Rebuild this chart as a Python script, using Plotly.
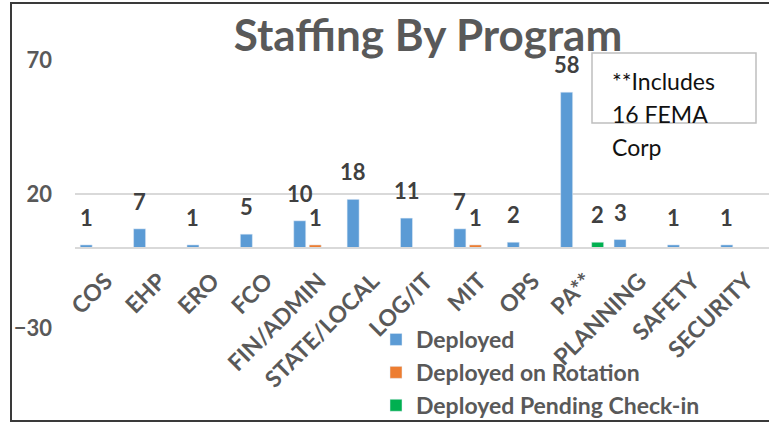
import plotly.graph_objects as go

# Staffing counts per program
programs = ["COS", "EHP", "ERO", "FCO", "FIN/ADMIN", "STATE/LOCAL", "LOG/IT",
            "MIT", "OPS", "PA**", "PLANNING", "SAFETY", "SECURITY"]
deployed = [1, 7, 1, 5, 10, 18, 11, 7, 2, 58, 3, 1, 1]
on_rotation = [None, None, None, None, 1, None, None, 1, None, None, None, None, None]
pending_checkin = [None, None, None, None, None, None, None, None, None, 2, None, None, None]
y_ticks = [70, 20, -30]

series = [
    ("Deployed", deployed, "#5B9BD5"),
    ("Deployed on Rotation", on_rotation, "#ED7D31"),
    ("Deployed Pending Check-in", pending_checkin, "#00B050"),
]

W, H = 769, 422
ML, MR, MT, MB = 75, 0, 60, 94
PW, PH = W - ML - MR, H - MT - MB
BARGAP, BARGROUPGAP = 0.129, 0.226
FONT = "Lato"
GRAY = "#595959"


def px_x(px):
    return (px - ML) / PW


def px_y(py):
    return (H - MB - py) / PH


fig = go.Figure()
for i, (name, vals, color) in enumerate(series):
    fig.add_trace(go.Bar(x=programs, y=vals, name=name, marker_color=color))

# value labels above each bar
slot = PW / len(programs) * (1 - BARGAP) / len(series)
for i, (name, vals, color) in enumerate(series):
    shift = (i - (len(series) - 1) / 2) * slot
    for cat, v in zip(programs, vals):
        if v is None:
            continue
        fig.add_annotation(
            x=cat, y=v, xref="x", yref="y", text=str(v), showarrow=False,
            xshift=shift, yshift=12, yanchor="bottom",
            font=dict(family=FONT, size=22, color="#404040", weight="bold"),
        )

# note box
fig.add_shape(type="rect", xref="paper", yref="paper",
              x0=px_x(592), x1=px_x(756), y0=px_y(123), y1=px_y(53),
              line=dict(color="#BFBFBF", width=1.5), fillcolor="rgba(0,0,0,0)")
for j, line in enumerate(["**Includes", "16 FEMA", "Corp"]):
    fig.add_annotation(
        x=px_x(610), y=px_y(81 + 33 * j), xref="paper", yref="paper",
        text=line, showarrow=False, xanchor="left", yanchor="middle",
        font=dict(family=FONT, size=23, color="#111111"),
    )

# outer frame
fig.add_shape(type="rect", xref="paper", yref="paper",
              x0=px_x(11), x1=px_x(775), y0=px_y(421), y1=px_y(3),
              line=dict(color="#3A3A3A", width=2), fillcolor="rgba(0,0,0,0)")

fig.update_layout(
    width=W, height=H,
    margin=dict(l=ML, r=MR, t=MT, b=MB, autoexpand=False),
    paper_bgcolor="white", plot_bgcolor="white",
    barmode="group", bargap=BARGAP, bargroupgap=BARGROUPGAP,
    title=dict(text="Staffing By Program", x=428 / W, xanchor="center",
               y=1 - 20 / H, yanchor="top", yref="container",
               font=dict(family=FONT, size=44, color=GRAY, weight="bold")),
    showlegend=True,
    legend=dict(x=px_x(376), y=px_y(318), xanchor="left", yanchor="top",
                bgcolor="rgba(0,0,0,0)", itemwidth=30,
                font=dict(family=FONT, size=23, color=GRAY, weight="bold")),
    xaxis=dict(anchor="free", position=0.3, showline=True, linecolor="#D9D9D9",
               linewidth=2, showgrid=False, tickangle=-45, ticks="",
               ticklabelstandoff=10, ticklabelshift=4,
               tickfont=dict(family=FONT, size=23, color=GRAY, weight="bold"),
               fixedrange=True),
    yaxis=dict(range=[-30, 70], tickvals=y_ticks, showgrid=True,
               gridcolor="#D9D9D9", gridwidth=1.5, zeroline=False, ticks="",
               ticklabelstandoff=22,
               tickfont=dict(family=FONT, size=22, color=GRAY, weight="bold")),
)

fig.write_html("out.html")
